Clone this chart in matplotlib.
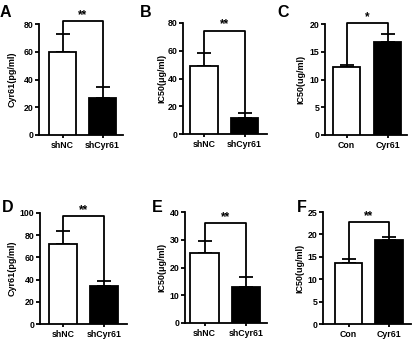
import numpy as np
import matplotlib.pyplot as plt

plt.rcParams['font.family'] = ['Liberation Sans', 'DejaVu Sans']
plt.rcParams['font.weight'] = 'bold'

# panel data
letters = ['A', 'B', 'C', 'D', 'E', 'F']
groups_sh = ['shNC', 'shCyr61']
groups_con = ['Con', 'Cyr61']
xlabels = [groups_sh, groups_sh, groups_con, groups_sh, groups_sh, groups_con]
ylabels = ['Cyr61(pg/ml)', 'IC50(μg/ml)', 'IC50(ug/ml)',
           'Cyr61(pg/ml)', 'IC50(μg/ml)', 'IC50(ug/ml)']
means = [[60, 26.5], [49, 11.5], [12.3, 16.8],
         [72.5, 34], [25.2, 13.1], [13.6, 18.8]]
errs = [[12.5, 8], [9.5, 3.5], [0.25, 1.4],
        [11, 5], [4.3, 3.4], [0.8, 0.6]]
ymax = [80, 80, 20, 100, 40, 25]
ystep = [20, 20, 5, 20, 10, 5]
bracket = [82, 74.5, 20.2, 97, 36, 22.8]
stars = ['**', '**', '*', '**', '**', '**']

W, H = 412, 341
fig = plt.figure(figsize=(W / 100, H / 100), dpi=100)

# axes boxes in pixels: left, right, top, bottom ; bar centre pixels
boxes = [(39, 123, 24, 135), (183, 267, 23, 134), (325, 407, 24, 135),
         (40, 127, 213, 324), (185, 267, 212, 323), (323, 411, 212, 324)]
centres = [(62.5, 102.5), (204, 244.5), (346.5, 387.5),
           (63, 104), (204.5, 246), (348.5, 389)]
letter_pos = [(0, 17), (140, 17), (277, 17), (2, 212), (152, 212), (297, 212)]
ylabel_x = [17, 166, 305, 17, 166, 304]

for i in range(6):
    l, r, t, b = boxes[i]
    ax = fig.add_axes([l / W, 1 - b / H, (r - l) / W, (b - t) / H])
    c1, c2 = centres[i]
    unit = c2 - c1
    ax.set_xlim((l - c1) / unit, (r - c1) / unit)
    ax.set_ylim(0, ymax[i])
    x = np.arange(2)
    ax.bar(x, means[i], width=0.68, color=['white', 'black'],
           edgecolor='black', linewidth=1.3, zorder=3)
    ax.errorbar(x, means[i], yerr=[[0, 0], errs[i]], fmt='none',
                ecolor='black', elinewidth=1.3, capsize=5, capthick=1.3, zorder=2)
    # significance bracket
    tops = [means[i][0] + errs[i][0], means[i][1] + errs[i][1]]
    by = bracket[i]
    ax.plot([0, 0, 1, 1], [tops[0], by, by, tops[1]], color='black',
            lw=1.3, clip_on=False, zorder=4)
    ax.text(0.5, by, stars[i], ha='center', va='bottom', fontsize=8.5,
            fontweight='bold')
    ax.set_yticks(np.arange(0, ymax[i] + 1, ystep[i]))
    ax.set_xticks(x)
    ax.set_xticklabels(xlabels[i])
    ax.set_ylabel(ylabels[i], fontsize=6.5, fontweight='bold')
    ax.yaxis.set_label_coords((ylabel_x[i] - l) / (r - l), 0.5)
    ax.tick_params(labelsize=6.3, width=1.3, length=3, pad=1)
    ax.tick_params(axis='x', length=2.5, pad=1.5)
    for s in ['top', 'right']:
        ax.spines[s].set_visible(False)
    for s in ['left', 'bottom']:
        ax.spines[s].set_linewidth(1.3)
    lx, ly = letter_pos[i]
    fig.text(lx / W, 1 - ly / H, letters[i], fontsize=11.5, fontweight='bold')

fig.savefig('out.png', dpi=100)
